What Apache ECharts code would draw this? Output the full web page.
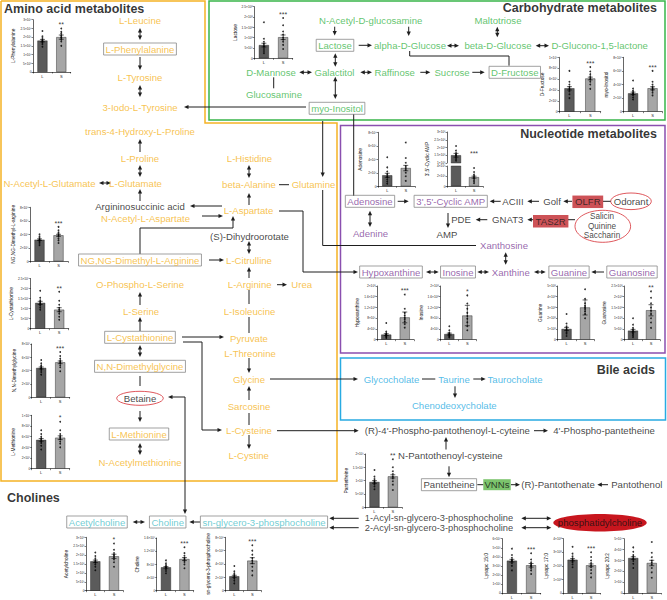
<!DOCTYPE html>
<html>
<head>
<meta charset="utf-8">
<script src="https://cdn.jsdelivr.net/npm/echarts@6/dist/echarts.min.js"></script>
<style>html,body{margin:0;padding:0;background:#fff}#c{width:667px;height:600px}</style>
</head>
<body>
<div id="c"></div>
<script>
// ======================= DATA =======================
const sectionTitles = ['Amino acid metabolites', 'Carbohydrate metabolites', 'Nucleotide metabolites', 'Bile acids', 'Cholines'];

const aminoAcidNodes = ['L-Leucine', 'L-Phenylalanine', 'L-Tyrosine', '3-Iodo-L-Tyrosine', 'trans-4-Hydroxy-L-Proline',
  'L-Proline', 'L-Glutamate', 'N-Acetyl-L-Glutamate', 'N-Acetyl-L-Aspartate', 'NG,NG-Dimethyl-L-Arginine',
  'O-Phospho-L-Serine', 'L-Serine', 'L-Cystathionine', 'N,N-Dimethylglycine', 'L-Methionine', 'N-Acetylmethionine',
  'L-Histidine', 'beta-Alanine', 'Glutamine', 'L-Aspartate', 'L-Citrulline', 'L-Arginine', 'Urea', 'L-Isoleucine',
  'Pyruvate', 'L-Threonine', 'Glycine', 'Sarcosine', 'L-Cysteine', 'L-Cystine'];
const carbohydrateNodes = ['N-Acetyl-D-glucosamine', 'Maltotriose', 'Lactose', 'alpha-D-Glucose', 'beta-D-Glucose',
  'D-Glucono-1,5-lactone', 'D-Mannose', 'Galactitol', 'Raffinose', 'Sucrose', 'D-Fructose', 'Glucosamine', 'myo-Inositol'];
const nucleotideNodes = ['Adenosine', "3',5'-Cyclic AMP", 'Adenine', 'Xanthosine', 'Hypoxanthine', 'Inosine', 'Xanthine', 'Guanine', 'Guanosine'];
const bileAcidNodes = ['Glycocholate', 'Taurine', 'Taurocholate', 'Chenodeoxycholate'];
const cholineNodes = ['Acetylcholine', 'Choline', 'sn-glycero-3-phosphocholine'];
const otherNodes = ['Argininosuccinic acid', '(S)-Dihydroorotate', 'Betaine', 'ACIII', 'Golf', 'PDE', 'AMP', 'GNAT3',
  'Odorant', "(R)-4'-Phospho-pantothenoyl-L-cyteine", "4'-Phospho-pantetheine",
  'N-Pantothenoyl-cysteine', 'Pantetheine', '(R)-Pantothenate', 'Pantothenol', 'phosphatidylcholine'];
const tasteNodes = ['Salicin', 'Quinine', 'Saccharin'];
const acylNodes = ['1-Acyl-sn-glycero-3-phosphocholine', '2-Acyl-sn-glycero-3-phosphocholine'];
const receptorNodes = ['OLFR', 'TAS2R'];
const enzymeNodes = ['VNNs'];
const boxedNodes = ['L-Phenylalanine', 'NG,NG-Dimethyl-L-Arginine', 'L-Cystathionine', 'N,N-Dimethylglycine', 'L-Methionine',
  'Lactose', 'D-Fructose', 'myo-Inositol', 'Adenosine', "3',5'-Cyclic AMP", 'Hypoxanthine', 'Inosine', 'Guanine',
  'Guanosine', 'Pantetheine', 'Acetylcholine', 'Choline', 'sn-glycero-3-phosphocholine'];

// Inset bar charts (group L vs S)
const groups = ['L', 'S'];
const barCharts = ['L-Phenylalanine', 'Lactose', 'D-Fructose', 'myo-Inositol', 'Adenosine', "3',5'-Cyclic AMP",
  'NG,NG-Dimethyl-L-arginine', 'L-Cystathionine', 'N,N-Dimethylglycine', 'L-Methionine', 'Hypoxanthine', 'Inosine',
  'Guanine', 'Guanosine', 'Pantetheine', 'Acetylcholine', 'Choline', 'sn-glycero-3-phosphocholine',
  'Lysopc 15:0', 'Lysopc 17:0', 'Lysopc 20:2'];
const meanL = [1.8e7, 6.4e7, 4.3e4, 2.7e6, 1.63e7, 1.5e6, 3.2e4, 1.29e5, 4.4e4, 5.4e6, 1.9e7, 2.1e7, 1.0e8, 4.2e7, 9.5e6, 1.65e6, 7.1e5, 2.16e6, 3.57e7, 2.45e8, 3.22e7];
const meanS = [2.0e7, 1.02e8, 6.1e4, 3.44e6, 2.7e7, 1.8e5, 3.85e4, 9.5e4, 5.25e4, 5.8e6, 8.3e7, 9.0e7, 3.0e8, 1.37e8, 1.16e7, 1.93e6, 9.6e5, 4.5e6, 3.06e7, 2.04e8, 2.76e7];
const semL = [0.07e7, 0.9e7, 0.3e4, 0.18e6, 0.3e7, 0.12e6, 0.12e4, 0.08e5, 0.15e4, 0.25e6, 0.35e7, 0.35e7, 0.15e8, 0.6e7, 0.5e6, 0.07e6, 0.25e5, 0.15e6, 0.15e7, 0.08e8, 0.12e7];
const semS = [0.12e7, 1.1e7, 0.25e4, 0.22e6, 0.4e7, 0.2e5, 0.15e4, 0.1e5, 0.2e4, 0.35e6, 0.2e8, 0.38e8, 0.7e8, 0.26e8, 0.6e6, 0.12e6, 0.45e5, 0.45e6, 0.2e7, 0.1e8, 0.25e7];
const ptsL = [
  [1.45e7, 1.6e7, 1.7e7, 1.75e7, 1.8e7, 1.85e7, 1.95e7, 2.05e7, 2.35e7],
  [0.25e8, 0.35e8, 0.45e8, 0.55e8, 0.6e8, 0.7e8, 0.8e8, 0.95e8, 1.75e8],
  [2.5e4, 3.2e4, 3.7e4, 4.0e4, 4.3e4, 4.6e4, 5.0e4, 5.5e4, 7.5e4],
  [1.8e6, 2.1e6, 2.4e6, 2.6e6, 2.7e6, 2.9e6, 3.1e6, 3.4e6, 4.6e6],
  [0.4e7, 0.7e7, 1.0e7, 1.3e7, 1.5e7, 1.8e7, 2.2e7, 2.8e7, 4.3e7],
  [1.15e6, 1.25e6, 1.35e6, 1.45e6, 1.5e6, 1.55e6, 1.65e6, 1.8e6, 2.1e6],
  [2.4e4, 2.7e4, 2.9e4, 3.1e4, 3.2e4, 3.3e4, 3.5e4, 3.7e4, 4.0e4],
  [0.95e5, 1.05e5, 1.15e5, 1.22e5, 1.28e5, 1.35e5, 1.42e5, 1.55e5, 1.9e5],
  [3.4e4, 3.8e4, 4.1e4, 4.3e4, 4.4e4, 4.6e4, 4.8e4, 5.1e4, 5.6e4],
  [3.6e6, 4.3e6, 4.8e6, 5.1e6, 5.4e6, 5.7e6, 6.0e6, 6.5e6, 7.2e6],
  [0.06e8, 0.1e8, 0.13e8, 0.16e8, 0.18e8, 0.2e8, 0.24e8, 0.3e8, 0.62e8],
  [0.08e8, 0.12e8, 0.15e8, 0.18e8, 0.2e8, 0.23e8, 0.27e8, 0.35e8, 0.5e8],
  [0.35e8, 0.55e8, 0.7e8, 0.85e8, 0.95e8, 1.1e8, 1.25e8, 1.5e8, 2.4e8],
  [0.12e8, 0.2e8, 0.27e8, 0.33e8, 0.4e8, 0.47e8, 0.55e8, 0.7e8, 1.0e8],
  [0.68e7, 0.78e7, 0.86e7, 0.92e7, 0.96e7, 1.0e7, 1.06e7, 1.15e7, 1.4e7],
  [1.15e6, 1.35e6, 1.48e6, 1.58e6, 1.65e6, 1.72e6, 1.82e6, 1.95e6, 2.15e6],
  [5.3e5, 6.0e5, 6.5e5, 6.9e5, 7.1e5, 7.4e5, 7.8e5, 8.3e5, 9.2e5],
  [1.1e6, 1.5e6, 1.8e6, 2.0e6, 2.2e6, 2.4e6, 2.6e6, 2.9e6, 3.7e6],
  [2.5e7, 3.0e7, 3.3e7, 3.5e7, 3.6e7, 3.7e7, 3.9e7, 4.2e7, 4.9e7],
  [1.9e8, 2.1e8, 2.25e8, 2.35e8, 2.45e8, 2.55e8, 2.7e8, 2.9e8, 3.4e8],
  [2.3e7, 2.7e7, 2.95e7, 3.1e7, 3.2e7, 3.35e7, 3.5e7, 3.8e7, 4.2e7]
];
const ptsS = [
  [1.5e7, 1.75e7, 1.85e7, 1.95e7, 2.0e7, 2.1e7, 2.2e7, 2.3e7, 2.5e7],
  [0.45e8, 0.65e8, 0.8e8, 0.9e8, 1.0e8, 1.15e8, 1.3e8, 1.6e8, 1.95e8],
  [4.2e4, 5.0e4, 5.5e4, 5.9e4, 6.2e4, 6.5e4, 6.9e4, 7.4e4, 8.2e4],
  [2.4e6, 2.8e6, 3.1e6, 3.3e6, 3.5e6, 3.7e6, 4.0e6, 4.4e6, 6.0e6],
  [0.8e7, 1.5e7, 2.0e7, 2.4e7, 2.7e7, 3.0e7, 3.5e7, 4.2e7, 6.5e7],
  [0.6e5, 0.9e5, 1.2e5, 1.5e5, 1.7e5, 2.0e5, 2.3e5, 2.8e5, 3.6e5],
  [2.7e4, 3.1e4, 3.4e4, 3.7e4, 3.9e4, 4.1e4, 4.3e4, 4.6e4, 5.1e4],
  [0.45e5, 0.6e5, 0.75e5, 0.85e5, 0.95e5, 1.05e5, 1.2e5, 1.4e5, 1.85e5],
  [3.9e4, 4.5e4, 4.8e4, 5.1e4, 5.3e4, 5.5e4, 5.8e4, 6.2e4, 6.8e4],
  [4.0e6, 4.7e6, 5.1e6, 5.5e6, 5.8e6, 6.1e6, 6.5e6, 7.2e6, 8.8e6],
  [0.45e8, 0.58e8, 0.68e8, 0.76e8, 0.82e8, 0.9e8, 1.0e8, 1.15e8, 1.68e8],
  [0.35e8, 0.5e8, 0.65e8, 0.78e8, 0.88e8, 1.0e8, 1.15e8, 1.35e8, 1.65e8],
  [2.0e8, 2.4e8, 2.65e8, 2.85e8, 3.0e8, 3.15e8, 3.4e8, 3.8e8, 4.7e8],
  [0.55e8, 0.8e8, 1.0e8, 1.2e8, 1.35e8, 1.5e8, 1.7e8, 1.95e8, 2.25e8],
  [0.65e7, 0.85e7, 0.98e7, 1.08e7, 1.15e7, 1.25e7, 1.35e7, 1.5e7, 1.8e7],
  [1.35e6, 1.6e6, 1.75e6, 1.85e6, 1.95e6, 2.02e6, 2.12e6, 2.3e6, 2.65e6],
  [6.8e5, 8.0e5, 8.7e5, 9.2e5, 9.6e5, 10.0e5, 10.6e5, 11.4e5, 13.2e5],
  [2.3e6, 3.0e6, 3.6e6, 4.1e6, 4.5e6, 4.9e6, 5.4e6, 6.0e6, 6.8e6],
  [2.1e7, 2.5e7, 2.75e7, 2.95e7, 3.05e7, 3.2e7, 3.4e7, 3.7e7, 4.4e7],
  [1.15e8, 1.45e8, 1.7e8, 1.9e8, 2.05e8, 2.2e8, 2.4e8, 2.65e8, 3.0e8],
  [1.4e7, 1.9e7, 2.3e7, 2.6e7, 2.8e7, 3.0e7, 3.3e7, 3.7e7, 4.7e7]
];
const stars = ['**', '***', '***', '***', '', '***', '***', '**', '***', '*', '***', '*', '**', '**', '**', '*', '***', '***', '***', '***', '*'];
// y-axis ticks (max and step) for each inset
const yMax = [3e7, 2.5e8, 1e5, 8e6, 8e7, 3e6, 8e4, 2.5e5, 8e4, 1e7, 2e8, 2e8, 5e8, 2.5e8, 2e7, 3e6, 1.6e6, 8e6, 6e7, 4e8, 5e7];
const yStep = [5e6, 5e7, 2e4, 2e6, 2e7, 5e5, 2e4, 5e4, 2e4, 2e6, 4e7, 4e7, 1e8, 5e7, 5e6, 5e5, 4e5, 2e6, 1e7, 1e8, 1e7];
// broken axis of the cyclic AMP inset
const brokenChart = 5;
const brokenLowMax = 4e5, brokenLowStep = 2e5, brokenHighMin = 1e6;

// ======================= LAYOUT =======================
const FONT = 'Liberation Sans, Arial, Helvetica, sans-serif';
const ORANGE = '#F5B324', GREEN = '#39B54A', PURPLE = '#7E3F98', PURPLE_BOX = '#8A4FAF', BLUE = '#29ABE2', TEAL = '#4DBFC8';
const LINK = '#1e1e1e';
const nodeXY = {
  'L-Leucine': [140, 20], 'L-Phenylalanine': [140, 49], 'L-Tyrosine': [140, 77.7], '3-Iodo-L-Tyrosine': [140, 107],
  'trans-4-Hydroxy-L-Proline': [140, 131], 'L-Proline': [140, 158], 'L-Glutamate': [135.5, 183], 'N-Acetyl-L-Glutamate': [49.5, 183],
  'Argininosuccinic acid': [140, 206], 'N-Acetyl-L-Aspartate': [145.5, 218], 'NG,NG-Dimethyl-L-Arginine': [140, 260],
  'O-Phospho-L-Serine': [140, 284.7], 'L-Serine': [141, 311.3], 'L-Cystathionine': [140, 337.3], 'N,N-Dimethylglycine': [140, 366.3],
  'Betaine': [140, 398], 'L-Methionine': [139, 434], 'N-Acetylmethionine': [140, 462],
  'L-Histidine': [249.5, 158.7], 'beta-Alanine': [249, 184.7], 'Glutamine': [313.5, 184.7], 'L-Aspartate': [248.5, 210.7],
  '(S)-Dihydroorotate': [249.5, 236], 'L-Citrulline': [249, 260], 'L-Arginine': [249.7, 284.7], 'Urea': [301.7, 284.7],
  'L-Isoleucine': [249.5, 311.3], 'Pyruvate': [249, 338.7], 'L-Threonine': [250, 353], 'Glycine': [249, 379],
  'Sarcosine': [249, 406.3], 'L-Cysteine': [249, 430.3], 'L-Cystine': [248.7, 455.3],
  'N-Acetyl-D-glucosamine': [370.7, 20], 'Maltotriose': [498, 20.7], 'Lactose': [335, 45.3], 'alpha-D-Glucose': [410, 45.3],
  'beta-D-Glucose': [498, 45.7], 'D-Glucono-1,5-lactone': [599.7, 45.7], 'D-Mannose': [271, 72.3], 'Galactitol': [334.5, 72.3],
  'Raffinose': [394.7, 72.3], 'Sucrose': [452, 72.3], 'D-Fructose': [514.8, 72.3], 'Glucosamine': [274, 94.3], 'myo-Inositol': [337, 108.3],
  'Adenosine': [370, 201.3], "3',5'-Cyclic AMP": [450.7, 201.3], 'Adenine': [370.5, 233.7], 'Xanthosine': [504, 245.7],
  'Hypoxanthine': [391, 272], 'Inosine': [458, 272], 'Xanthine': [510.8, 272], 'Guanine': [569, 272], 'Guanosine': [632, 272],
  'ACIII': [513, 201.3], 'Golf': [552, 201.3], 'PDE': [461, 219.7], 'AMP': [447, 234], 'GNAT3': [507.7, 219.7],
  'OLFR': [587.8, 201.8], 'TAS2R': [550.7, 221.3], 'Odorant': [631, 201.3],
  'Salicin': [602, 216.7], 'Quinine': [602, 226.3], 'Saccharin': [602, 235.9],
  'Glycocholate': [391.5, 379], 'Taurine': [454, 379], 'Taurocholate': [515, 379], 'Chenodeoxycholate': [454.3, 405.7],
  "(R)-4'-Phospho-pantothenoyl-L-cyteine": [447.3, 430.7], "4'-Phospho-pantetheine": [604, 430.7],
  'N-Pantothenoyl-cysteine': [450.3, 455.3], 'Pantetheine': [449, 484.7], 'VNNs': [497, 484.7], '(R)-Pantothenate': [558, 484.7],
  'Pantothenol': [636.8, 484.7], '1-Acyl-sn-glycero-3-phosphocholine': [439, 518.3], '2-Acyl-sn-glycero-3-phosphocholine': [439, 527.7],
  'phosphatidylcholine': [600, 522.7],
  'Acetylcholine': [97, 522], 'Choline': [167.7, 522], 'sn-glycero-3-phosphocholine': [264, 522]
};
const titleXY = [[4, 9, 'left'], [657, 7.5, 'right'], [657, 134.3, 'right'], [655, 369.7, 'right'], [7, 498, 'left']];
// connectors: 0 plain line, 1 arrow at end, 2 arrows at both ends
const connectors = [
  [2, [[140, 28], [140, 40]]], [1, [[140, 57], [140, 70]]], [2, [[140, 85], [140, 97]]],
  [1, [[306, 107], [184, 107]]], [1, [[140, 152], [140, 139]]], [2, [[140, 165], [140, 177]]],
  [2, [[99, 183], [111, 183]]], [1, [[140, 201], [140, 189]]], [1, [[222, 206], [190, 206]]],
  [1, [[202, 216], [223, 216]]], [1, [[140, 254], [140, 228], [233, 228], [233, 216]]], [1, [[209, 260], [224, 260]]],
  [1, [[140, 305], [140, 292]]], [1, [[140, 331], [140, 317]]], [2, [[140, 345], [140, 357]]],
  [0, [[140, 376], [140, 386]]], [1, [[140, 411], [140, 422]]], [2, [[140, 443], [140, 455]]],
  [1, [[182, 337], [224, 337]]], [1, [[183, 342], [202, 342], [202, 430], [222, 430]]],
  [2, [[168, 397], [185, 397], [185, 514]]],
  [2, [[249, 165], [249, 178]]], [0, [[279, 184.7], [289, 184.7]]], [1, [[249, 205], [249, 193]]],
  [1, [[322.7, 121], [322.7, 177]]], [0, [[322.7, 190], [322.7, 245.5], [476, 245.5]]],
  [1, [[279, 211], [303, 211], [303, 272], [358, 272]]], [2, [[249, 241], [249, 254]]], [1, [[249, 278], [249, 267]]],
  [1, [[277, 284.7], [287, 284.7]]], [0, [[249, 290], [249, 304]]], [0, [[249, 317], [249, 333]]],
  [1, [[249, 358], [249, 373]]], [1, [[270, 379], [358, 379]]], [1, [[249, 400], [249, 386]]],
  [0, [[249, 413], [249, 425]]], [1, [[277, 430.7], [358.7, 430.7]]], [1, [[249, 435], [249, 449]]],
  [1, [[334.7, 26.7], [334.7, 35.5]]], [1, [[408.7, 26.7], [408.7, 36]]], [1, [[358.7, 45.3], [372, 45.3]]],
  [0, [[409.7, 51], [409.7, 56], [509, 56], [509, 65.7]]], [2, [[497.3, 26.7], [497.3, 37.3]]],
  [2, [[447, 45.7], [459, 45.7]]], [2, [[535.7, 45.7], [549, 45.7]]], [2, [[299.3, 72.3], [312, 72.3]]],
  [2, [[360.3, 72.3], [372, 72.3]]], [1, [[420.3, 72.3], [430.3, 72.3]]], [1, [[472.3, 72.3], [484.7, 72.3]]],
  [0, [[273.7, 77.3], [273.7, 88.3]]], [2, [[335.3, 53.3], [335.3, 66.7]]], [2, [[335.3, 76.7], [335.3, 99]]],
  [0, [[353.7, 114], [353.7, 196]]],
  [2, [[370, 210.7], [370, 227]]], [1, [[397.7, 201.3], [408.7, 201.3]]], [1, [[500.7, 201.3], [489.7, 201.3]]],
  [1, [[539, 201.3], [527.3, 201.3]]], [1, [[572, 201.3], [563.3, 201.3]]], [0, [[603, 201.3], [610.7, 201.3]]],
  [1, [[448, 213], [448, 228]]], [1, [[487.3, 219.7], [475.7, 219.7]]], [1, [[533.3, 219.7], [527.3, 219.7]]],
  [0, [[568, 219.7], [575, 219.7]]], [2, [[505.7, 252.3], [505.7, 264.7]]], [2, [[426, 272], [438.7, 272]]],
  [2, [[477.3, 272], [489, 272]]], [2, [[534, 272], [545.7, 272]]], [1, [[604, 272], [591.3, 272]]],
  [0, [[422, 379], [435.3, 379]]], [1, [[473.3, 379], [485.7, 379]]], [1, [[455, 386.3], [455, 398]]],
  [1, [[534, 430.7], [548, 430.7]]], [1, [[446, 449.5], [446, 437]]], [1, [[449, 466.3], [449, 477.3]]],
  [0, [[477.3, 484.7], [483.3, 484.7]]], [1, [[511, 484.7], [520, 484.7]]], [1, [[608, 484.7], [597.3, 484.7]]],
  [1, [[358.7, 518.3], [329.3, 518.3]]], [1, [[358.7, 527.7], [329.3, 527.7]]],
  [2, [[521.3, 518.3], [551.3, 518.3]]], [2, [[521.3, 527.7], [551.3, 527.7]]],
  [2, [[132.7, 522], [145, 522]]], [1, [[200, 522], [189.3, 522]]]
];
// inset plot areas: [left, top, width, height, y-title centre x]
const chartBox = [
  [33, 19.7, 37.7, 52.3, 13.3], [254.3, 6.7, 38.4, 51.6, 238.7], [559, 57.3, 41.7, 54.4, 544], [623.3, 57.3, 39, 54.4, 609],
  [378, 132.3, 37, 54, 360.3], [447, 132, 36, 54.3, 428], [30, 207.3, 38, 54, 15], [30.7, 278.7, 38, 50, 15],
  [31.7, 344, 38, 53.3, 15], [31.7, 415.3, 38, 53.4, 14], [377, 286, 37, 53.7, 358.7], [440.3, 286, 36, 53.7, 424.7],
  [557.3, 286, 37, 53.7, 542.3], [624, 286, 36, 53.7, 606.7], [365.3, 454, 36.7, 53.3, 348.7], [86, 537.3, 37.3, 53.4, 68.3],
  [156.7, 538, 37, 52.7, 138.3], [225.3, 537.3, 36, 53.4, 208.3], [502.3, 538.7, 38.4, 54.3, 491], [563.3, 538.7, 37, 54.3, 553],
  [624, 538.7, 37, 54.3, 612.3]
];
const brokenSplit = [163, 166]; // bottom of upper part, top of lower part

// ======================= BUILD =======================
const NODE_FS = 9.6, NAME_FS = 4.8, BAR_W = 10, AH_LEN = 4.5, AH_W = 4.2;
const grids = [{left: 0, top: 0, width: 667, height: 600, outerBoundsMode: 'none'}];
const xAxes = [{type: 'value', gridIndex: 0, min: 0, max: 667, show: false}];
const yAxes = [{type: 'value', gridIndex: 0, min: 0, max: 600, inverse: true, show: false}];
const series = [];

function lbl(color, extra) {
  return Object.assign({show: true, position: 'inside', formatter: '{b}', color: color, fontSize: NODE_FS,
    fontFamily: FONT, lineHeight: 10.5}, extra || {});
}
const nodeData = [];
function addNodes(names, color, more) {
  names.forEach(function (n) {
    const extra = Object.assign({}, more || {});
    if (boxedNodes.indexOf(n) >= 0) Object.assign(extra, {borderColor: '#8a8a8a', borderWidth: 1, padding: [1, 2, 0.5, 2]});
    if (receptorNodes.indexOf(n) >= 0) Object.assign(extra, {backgroundColor: '#C1272D', padding: [1.2, 2.6, 0.8, 2.6]});
    if (enzymeNodes.indexOf(n) >= 0) Object.assign(extra, {backgroundColor: '#5BB548', padding: [0.5, 1.2, 0, 1.2]});
    nodeData.push({name: n, value: nodeXY[n], label: lbl(color, extra)});
  });
}
addNodes(aminoAcidNodes, ORANGE);
addNodes(carbohydrateNodes, GREEN);
addNodes(nucleotideNodes, PURPLE);
addNodes(bileAcidNodes, BLUE);
addNodes(cholineNodes, TEAL);
addNodes(otherNodes, '#111');
addNodes(tasteNodes, '#111', {fontSize: 8.2, lineHeight: 8.2});
addNodes(acylNodes, '#111', {fontSize: 9.3, lineHeight: 9.4});
addNodes(receptorNodes, '#1a1a1a');
addNodes(enzymeNodes, '#111');

// connectors drawn through the canvas axes
function arrowHead(tip, from) {
  const dx = tip[0] - from[0], dy = tip[1] - from[1];
  const len = Math.hypot(dx, dy) || 1;
  const ux = dx / len, uy = dy / len;
  const bx = tip[0] - ux * AH_LEN, by = tip[1] - uy * AH_LEN, w = AH_W / 2;
  return {type: 'polygon', shape: {points: [[tip[0], tip[1]], [bx - uy * w, by + ux * w], [bx + uy * w, by - ux * w]]},
    style: {fill: LINK, stroke: 'none'}};
}
function linkRender(params, api) {
  const c = connectors[api.value(2)];
  const pts = c[1].map(function (p) { return api.coord(p); });
  const n = pts.length;
  const line = pts.map(function (p) { return [p[0], p[1]]; });
  function pull(i, j) {
    const dx = line[i][0] - line[j][0], dy = line[i][1] - line[j][1];
    const len = Math.hypot(dx, dy) || 1;
    line[i] = [line[i][0] - dx / len * (AH_LEN - 1), line[i][1] - dy / len * (AH_LEN - 1)];
  }
  if (c[0] >= 1) pull(n - 1, n - 2);
  if (c[0] === 2) pull(0, 1);
  const children = [{type: 'polyline', shape: {points: line}, style: {stroke: LINK, lineWidth: 1, fill: 'none'}}];
  if (c[0] >= 1) children.push(arrowHead(pts[n - 1], pts[n - 2]));
  if (c[0] === 2) children.push(arrowHead(pts[0], pts[1]));
  return {type: 'group', children: children};
}
series.push({type: 'custom', xAxisIndex: 0, yAxisIndex: 0, silent: true, clip: false, z: 3,
  encode: {x: 0, y: 1},
  data: connectors.map(function (c, i) { return [c[1][0][0], c[1][0][1], i]; }),
  renderItem: linkRender});
series.push({type: 'scatter', xAxisIndex: 0, yAxisIndex: 0, symbolSize: 0, silent: true, data: nodeData, z: 6});
series.push({type: 'scatter', xAxisIndex: 0, yAxisIndex: 0, symbolSize: 0, silent: true, z: 6,
  data: sectionTitles.map(function (t, i) {
    return {name: t, value: [titleXY[i][0], titleXY[i][1]],
      label: {show: true, position: 'inside', formatter: '{b}', align: titleXY[i][2], color: '#000',
        fontSize: 12.5, fontWeight: 'bold', fontFamily: FONT}};
  })});

// inset charts
const SUP = {'0': '⁰', '1': '¹', '2': '²', '3': '³', '4': '⁴', '5': '⁵', '6': '⁶', '7': '⁷', '8': '⁸', '9': '⁹', '-': '⁻'};
function sci(v) {
  if (!v) return '0';
  const e = Math.floor(Math.log10(Math.abs(v)) + 1e-9);
  const m = Math.round(v / Math.pow(10, e) * 100) / 100;
  return m + '×10' + String(e).split('').map(function (c) { return SUP[c]; }).join('');
}
function errRender(params, api) {
  const lo = api.coord([api.value(0), api.value(1)]);
  const hi = api.coord([api.value(0), api.value(2)]);
  const st = {stroke: '#000', lineWidth: 0.6};
  return {type: 'group', children: [
    {type: 'line', shape: {x1: hi[0], y1: hi[1], x2: lo[0], y2: lo[1]}, style: st},
    {type: 'line', shape: {x1: hi[0] - 2.5, y1: hi[1], x2: hi[0] + 2.5, y2: hi[1]}, style: st},
    {type: 'line', shape: {x1: lo[0] - 2.5, y1: lo[1], x2: lo[0] + 2.5, y2: lo[1]}, style: st}
  ]};
}
function addGrid(l, t, w, h) {
  grids.push({left: l, top: t, width: w, height: h, outerBoundsMode: 'none'});
  return grids.length - 1;
}
function addXAxis(gi, show) {
  xAxes.push({type: 'category', gridIndex: gi, data: groups, show: show,
    axisLine: {show: true, lineStyle: {color: '#000', width: 0.6}},
    axisTick: {show: true, length: 1.5, lineStyle: {color: '#000', width: 0.5}},
    axisLabel: {fontSize: 4, margin: 2, color: '#222', fontFamily: FONT}});
  return xAxes.length - 1;
}
function addYAxis(gi, min, max, step, name, gap, showAxis) {
  yAxes.push({type: 'value', gridIndex: gi, min: min, max: max, interval: step,
    name: name, nameLocation: 'middle', nameRotate: 90, nameGap: gap,
    nameTextStyle: {fontSize: NAME_FS, color: '#111', fontFamily: FONT},
    axisLine: {show: showAxis, lineStyle: {color: '#000', width: 0.6}},
    axisTick: {show: showAxis, length: 1.5, lineStyle: {color: '#000', width: 0.5}},
    axisLabel: {show: showAxis, fontSize: 3.2, margin: 1.5, color: '#222', fontFamily: FONT, formatter: sci},
    splitLine: {show: false}});
  return yAxes.length - 1;
}
function addSeries(i, xi, yi, which, starVal) {
  const bars = [{value: meanL[i], itemStyle: {color: '#5b5b5b'}}, {value: meanS[i], itemStyle: {color: '#a6a6a6'}}];
  series.push({type: 'bar', xAxisIndex: xi, yAxisIndex: yi, barWidth: BAR_W, silent: true, data: bars,
    itemStyle: {borderColor: '#111', borderWidth: 0.4}, z: 2});
  const err = [];
  const pts = [];
  if (which.indexOf(0) >= 0) { err.push([0, meanL[i] - semL[i], meanL[i] + semL[i]]); ptsL[i].forEach(function (v) { pts.push([0, v]); }); }
  if (which.indexOf(1) >= 0) { err.push([1, meanS[i] - semS[i], meanS[i] + semS[i]]); ptsS[i].forEach(function (v) { pts.push([1, v]); }); }
  series.push({type: 'custom', xAxisIndex: xi, yAxisIndex: yi, silent: true, clip: true, data: err, renderItem: errRender, z: 3});
  series.push({type: 'scatter', xAxisIndex: xi, yAxisIndex: yi, silent: true, symbolSize: 1.8, clip: true,
    itemStyle: {color: '#000'}, data: pts, z: 4});
  if (stars[i] && starVal != null) {
    series.push({type: 'scatter', xAxisIndex: xi, yAxisIndex: yi, silent: true, symbolSize: 0, z: 5,
      data: [[1, starVal]],
      label: {show: true, position: 'inside', formatter: stars[i], fontSize: 7, color: '#000', fontFamily: FONT}});
  }
}
barCharts.forEach(function (name, i) {
  const b = chartBox[i];
  const gap = b[0] - b[4] - NAME_FS / 2;
  if (i === brokenChart) {
    const g0 = addGrid(b[0], b[1], b[2], b[3]);
    addXAxis(g0, false);
    addYAxis(g0, 0, 1, 1, name, gap, false);
    const gu = addGrid(b[0], b[1], b[2], brokenSplit[0] - b[1]);
    const xu = addXAxis(gu, false);
    const yu = addYAxis(gu, brokenHighMin, yMax[i], yStep[i], '', 0, true);
    addSeries(i, xu, yu, [0], meanL[i] + semL[i]);
    const gl = addGrid(b[0], brokenSplit[1], b[2], b[1] + b[3] - brokenSplit[1]);
    const xl = addXAxis(gl, true);
    const yl = addYAxis(gl, 0, brokenLowMax, brokenLowStep, '', 0, true);
    addSeries(i, xl, yl, [1], null);
  } else {
    const gi = addGrid(b[0], b[1], b[2], b[3]);
    const xi = addXAxis(gi, true);
    const yi = addYAxis(gi, 0, yMax[i], yStep[i], name, gap, true);
    const top = Math.max(Math.max.apply(null, ptsS[i]), meanS[i] + semS[i]);
    addSeries(i, xi, yi, [0, 1], Math.min(top + 0.07 * yMax[i], yMax[i] * 1.02));
  }
});

// frames and decorations
const graphics = [
  {type: 'polyline', shape: {points: [[1, 1], [205, 1], [205, 123], [337, 123], [337, 481], [1, 481], [1, 1]]},
    style: {stroke: ORANGE, lineWidth: 1.5, fill: 'none'}},
  {type: 'rect', shape: {x: 209, y: 1, width: 456, height: 119}, style: {stroke: GREEN, lineWidth: 1.5, fill: 'none'}},
  {type: 'rect', shape: {x: 340.5, y: 125.5, width: 324.5, height: 227.5}, style: {stroke: PURPLE_BOX, lineWidth: 1.5, fill: 'none'}},
  {type: 'rect', shape: {x: 340.5, y: 358, width: 325, height: 62}, style: {stroke: BLUE, lineWidth: 1.5, fill: 'none'}},
  {type: 'ellipse', shape: {cx: 140, cy: 398.3, rx: 23.3, ry: 7}, style: {stroke: '#D62D34', lineWidth: 0.8, fill: 'none'}},
  {type: 'ellipse', shape: {cx: 631, cy: 201.3, rx: 20.3, ry: 8.3}, style: {stroke: '#D62D34', lineWidth: 0.8, fill: 'none'}},
  {type: 'ellipse', shape: {cx: 602.8, cy: 226.3, rx: 27.8, ry: 16}, style: {stroke: '#D62D34', lineWidth: 0.8, fill: 'none'}},
  {type: 'ellipse', shape: {cx: 600, cy: 522.7, rx: 46.7, ry: 8.7}, style: {fill: '#C8161E', stroke: 'none'}}
];

const chart = echarts.init(document.getElementById('c'), null, {renderer: 'svg', width: 667, height: 600});
chart.setOption({
  animation: false,
  backgroundColor: '#fff',
  textStyle: {fontFamily: FONT},
  grid: grids, xAxis: xAxes, yAxis: yAxes, series: series,
  graphic: {elements: graphics}
});
</script>
</body>
</html>
